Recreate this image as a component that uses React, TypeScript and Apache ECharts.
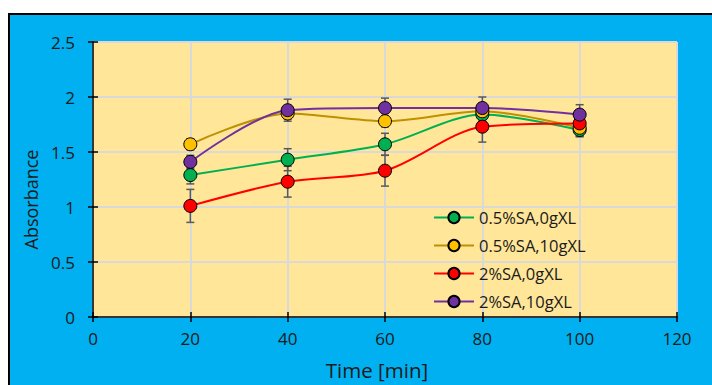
import React, { useEffect, useRef } from "react";
import * as echarts from "echarts";

const times = [20, 40, 60, 80, 100];
const seriesNames = ["0.5%SA,0gXL", "0.5%SA,10gXL", "2%SA,0gXL", "2%SA,10gXL"];
const green = [1.29, 1.43, 1.57, 1.84, 1.70];
const yellow = [1.57, 1.85, 1.78, 1.87, 1.72];
const red = [1.01, 1.23, 1.33, 1.73, 1.76];
const purple = [1.41, 1.88, 1.90, 1.90, 1.84];
const greenErr = [0.08, 0.1, 0.1, 0.06, 0.06];
const yellowErr = [0.05, 0.05, 0.05, 0.05, 0.05];
const redErr = [0.15, 0.14, 0.14, 0.14, 0.12];
const purpleErr = [0.06, 0.1, 0.09, 0.1, 0.09];
const xTicks = [0, 20, 40, 60, 80, 100, 120];
const yTicks = [0, 0.5, 1, 1.5, 2, 2.5];

const lineColors = ["#00B050", "#BF9000", "#FF0000", "#7030A0"];
const fillColors = ["#00B050", "#FFC000", "#FF0000", "#7030A0"];
const FONT = "Open Sans";
const TEXT = "#1a1a1a";

export default function App() {
  const ref = useRef<HTMLDivElement>(null);
  useEffect(() => {
    if (!ref.current) return;
    const chart = echarts.init(ref.current, undefined, { renderer: "svg" });
    const values = [green, yellow, red, purple];
    const errs = [greenErr, yellowErr, redErr, purpleErr];
    const errData: number[][] = [];
    values.forEach((vals, si) => {
      vals.forEach((v, i) => {
        errData.push([times[i], v - errs[si][i], v + errs[si][i]]);
      });
    });
    const lineSeries = values.map((vals, si) => ({
      name: seriesNames[si],
      type: "line",
      data: vals.map((v, i) => [times[i], v]),
      smooth: 0.3,
      symbol: "circle",
      symbolSize: 13,
      z: 5,
      lineStyle: { color: lineColors[si], width: 2 },
      itemStyle: { color: fillColors[si], borderColor: "#000", borderWidth: 1 },
    }));
    const option: any = {
      animation: false,
      backgroundColor: "#00B0F0",
      textStyle: { fontFamily: FONT },
      graphic: [
        { type: "rect", shape: { x: 0, y: 0, width: 712, height: 13 }, style: { fill: "#fff" }, silent: true },
        { type: "rect", shape: { x: 0, y: 0, width: 8, height: 385 }, style: { fill: "#fff" }, silent: true },
        { type: "line", shape: { x1: 8, y1: 14, x2: 712, y2: 14 }, style: { stroke: "#000", lineWidth: 2 }, silent: true },
        { type: "line", shape: { x1: 9, y1: 13, x2: 9, y2: 385 }, style: { stroke: "#000", lineWidth: 2 }, silent: true },
      ],
      grid: {
        left: 93,
        right: 35,
        top: 42,
        bottom: 67,
        show: true,
        backgroundColor: "#FFE699",
        borderColor: "#000",
        borderWidth: 1,
      },
      legend: {
        orient: "vertical",
        left: 428,
        top: 204,
        itemWidth: 40,
        itemHeight: 14,
        itemGap: 11,
        data: seriesNames,
        textStyle: { fontFamily: FONT, fontSize: 16.5, color: TEXT },
      },
      xAxis: [
        {
          type: "value",
          min: 0,
          max: 120,
          interval: 20,
          name: "Time [min]",
          nameLocation: "middle",
          nameGap: 42,
          nameTextStyle: { fontFamily: FONT, fontSize: 20.5, color: TEXT, padding: [0, 16, 0, 0] },
          axisLine: { show: true, lineStyle: { color: "#000", width: 1.5 } },
          axisTick: { show: true, length: 5, lineStyle: { color: "#000", width: 1.5 } },
          axisLabel: {
            margin: 13,
            fontFamily: FONT,
            fontSize: 17,
            color: TEXT,
            formatter: (v: number) => (xTicks.includes(v) ? String(v) : ""),
          },
          splitLine: { show: true, lineStyle: { color: "#D9D9D9", width: 2 } },
        },
        {
          type: "value",
          min: 0,
          max: 120,
          interval: 20,
          position: "bottom",
          axisLine: { show: false },
          axisTick: { show: true, inside: true, length: 5, lineStyle: { color: "#000", width: 1.5 } },
          axisLabel: { show: false },
          splitLine: { show: false },
        },
      ],
      yAxis: [
        {
          type: "value",
          min: 0,
          max: 2.5,
          interval: 0.5,
          name: "Absorbance",
          nameLocation: "middle",
          nameGap: 52,
          nameTextStyle: { fontFamily: FONT, fontSize: 18, color: TEXT, padding: [0, 40, 0, 0] },
          axisLine: { show: true, lineStyle: { color: "#000", width: 1.5 } },
          axisTick: { show: true, length: 5, lineStyle: { color: "#000", width: 1.5 } },
          axisLabel: {
            margin: 18,
            fontFamily: FONT,
            fontSize: 17,
            color: TEXT,
            formatter: (v: number) => (yTicks.includes(v) ? String(v) : ""),
          },
          splitLine: { show: true, lineStyle: { color: "#D9D9D9", width: 2 } },
        },
        {
          type: "value",
          min: 0,
          max: 2.5,
          interval: 0.5,
          position: "left",
          axisLine: { show: false },
          axisTick: { show: true, inside: true, length: 5, lineStyle: { color: "#000", width: 1.5 } },
          axisLabel: { show: false },
          splitLine: { show: false },
        },
      ],
      series: [
        {
          type: "custom",
          z: 3,
          data: errData,
          encode: { x: 0, y: [1, 2] },
          renderItem: (params: any, api: any) => {
            const x = api.value(0);
            const lo = api.coord([x, api.value(1)]);
            const hi = api.coord([x, api.value(2)]);
            const w = 4;
            const style = { stroke: "#595959", lineWidth: 1.5 };
            return {
              type: "group",
              children: [
                { type: "line", shape: { x1: lo[0], y1: lo[1], x2: hi[0], y2: hi[1] }, style },
                { type: "line", shape: { x1: lo[0] - w, y1: lo[1], x2: lo[0] + w, y2: lo[1] }, style },
                { type: "line", shape: { x1: hi[0] - w, y1: hi[1], x2: hi[0] + w, y2: hi[1] }, style },
              ],
            };
          },
        },
        ...lineSeries,
      ],
    };
    chart.setOption(option);
    return () => chart.dispose();
  }, []);
  return (
    <div
      ref={ref}
      style={{ position: "absolute", left: 0, top: 0, width: 712, height: 385 }}
    />
  );
}
